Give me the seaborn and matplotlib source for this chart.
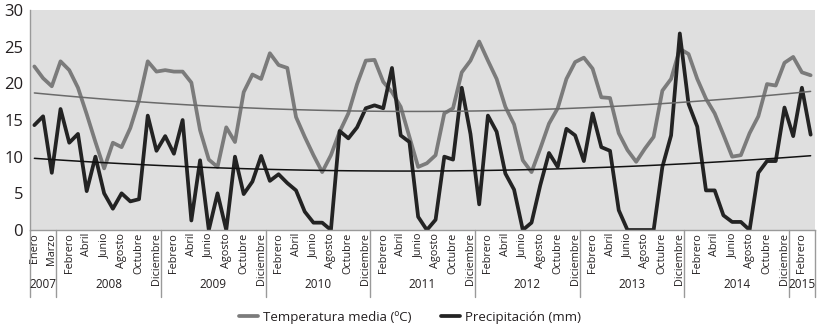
import matplotlib
matplotlib.use("Agg")
import matplotlib.pyplot as plt
from matplotlib.lines import Line2D
import seaborn as sns
import numpy as np
import pandas as pd

# ---------------- data ----------------
month_names = ["Enero", "Febrero", "Marzo", "Abril", "Mayo", "Junio", "Julio",
               "Agosto", "Septiembre", "Octubre", "Noviembre", "Diciembre"]
year_list = [2007, 2008, 2009, 2010, 2011, 2012, 2013, 2014, 2015]
months_per_year = [3, 12, 12, 12, 12, 12, 12, 12, 3]

temperatura = [22.3, 20.7, 19.6,
               23.0, 21.8, 19.4, 15.8, 12.0, 8.4, 11.9, 11.3, 13.9, 17.7, 23.0, 21.6,
               21.8, 21.6, 21.6, 20.1, 13.6, 9.6, 8.6, 14.0, 12.0, 18.8, 21.2, 20.6,
               24.1, 22.5, 22.1, 15.4, 12.7, 10.2, 7.9, 10.2, 13.4, 15.9, 19.9, 23.1,
               23.2, 20.2, 18.8, 16.8, 12.7, 8.6, 9.1, 10.2, 15.9, 16.6, 21.5, 23.1,
               25.7, 23.1, 20.6, 16.8, 14.4, 9.5, 7.9, 11.1, 14.5, 16.6, 20.6, 22.9,
               23.5, 22.0, 18.1, 18.0, 13.2, 10.9, 9.3, 11.1, 12.7, 19.0, 20.6, 24.7,
               24.0, 20.6, 17.9, 15.9, 13.0, 10.0, 10.2, 13.2, 15.5, 19.9, 19.7, 22.8,
               23.6, 21.5, 21.1]
precipitacion = [14.3, 15.5, 7.8,
                 16.5, 11.9, 13.1, 5.3, 10.0, 5.0, 2.9, 5.0, 3.9, 4.2, 15.6, 10.8,
                 12.8, 10.4, 15.0, 1.3, 9.5, 0.0, 5.0, 0.0, 10.0, 4.9, 6.6, 10.1,
                 6.7, 7.6, 6.4, 5.4, 2.5, 1.0, 1.0, 0.0, 13.5, 12.5, 14.0, 16.6,
                 17.0, 16.6, 22.1, 12.9, 12.0, 1.8, 0.0, 1.4, 10.0, 9.6, 19.4, 13.1,
                 3.5, 15.6, 13.4, 7.7, 5.5, 0.0, 1.0, 6.1, 10.5, 8.6, 13.8, 12.9,
                 9.4, 15.9, 11.3, 10.8, 2.7, 0.0, 0.0, 0.0, 0.0, 8.6, 12.9, 26.8,
                 17.2, 14.1, 5.4, 5.4, 2.0, 1.1, 1.1, 0.0, 7.8, 9.4, 9.4, 16.7,
                 12.8, 19.4, 13.0]
label_temp = "Temperatura media (ºC)"
label_prec = "Precipitación (mm)"

# build table
years, months = [], []
for y, n in zip(year_list, months_per_year):
    years += [y] * n
    months += month_names[:n]
df = pd.DataFrame({"idx": np.arange(len(months)), "year": years, "month": months,
                   "temp": temperatura, "prec": precipitacion})

# ---------------- style ----------------
sns.set_theme(style="white")
plt.rcParams["font.family"] = ["Open Sans", "DejaVu Sans"]
txt = "#231f20"
c_temp = "#7b7b7b"
c_prec = "#232323"

fig = plt.figure(figsize=(8.25, 3.31), dpi=100)
ax = fig.add_axes([30 / 825, 101 / 331, 785 / 825, 220 / 331])
ax.set_facecolor("#dfdfdf")

sns.lineplot(data=df, x="idx", y="temp", color=c_temp, lw=2.7, ax=ax)
sns.lineplot(data=df, x="idx", y="prec", color=c_prec, lw=2.7, ax=ax)
sns.regplot(data=df, x="idx", y="temp", order=2, scatter=False, ci=None, ax=ax,
            line_kws=dict(color="#6a6a6a", lw=1.1))
sns.regplot(data=df, x="idx", y="prec", order=2, scatter=False, ci=None, ax=ax,
            line_kws=dict(color="#111111", lw=1.1))

n = len(df)
ax.set_xlim(-0.5, n - 0.5)
ax.set_ylim(0, 30)
ax.set_xlabel("")
ax.set_ylabel("")
ax.set_yticks([0, 5, 10, 15, 20, 25, 30])
ax.tick_params(axis="y", length=0, pad=5, labelsize=12, labelcolor=txt)

even = df["idx"].values[::2]
ax.set_xticks(even)
ax.set_xticklabels(df["month"].values[::2], rotation=90, fontsize=7.8, color=txt)
ax.tick_params(axis="x", length=0, pad=2)

for s in ["top", "right"]:
    ax.spines[s].set_visible(False)
ax.spines["bottom"].set_color("#9a9a9a")
ax.spines["left"].set_color("#9a9a9a")
ax.spines["bottom"].set_linewidth(1)
ax.spines["left"].set_linewidth(1)

# year group separators and labels
trans = ax.get_xaxis_transform()
depth = -67 / 220
starts = df.groupby("year")["idx"].min().values
ends = df.groupby("year")["idx"].max().values
bounds = list(starts - 0.5) + [ends[-1] + 0.5]
for b in bounds:
    ax.plot([b, b], [0, depth], transform=trans, color="#9a9a9a", lw=1, clip_on=False)
for y, s, e in zip(year_list, starts, ends):
    ax.text((s + e) / 2, -55 / 220, str(y), transform=trans, ha="center", va="center",
            fontsize=8.5, color=txt)

handles = [Line2D([], [], color=c_temp, lw=2.7), Line2D([], [], color=c_prec, lw=2.7)]
fig.legend(handles, [label_temp, label_prec], loc="center", ncol=2,
           bbox_to_anchor=(0.497, 1 - 317 / 331), frameon=False, fontsize=9.5,
           handlelength=1.45, handletextpad=0.4, columnspacing=2.2,
           labelcolor=txt)

fig.savefig("out.png", dpi=100)
